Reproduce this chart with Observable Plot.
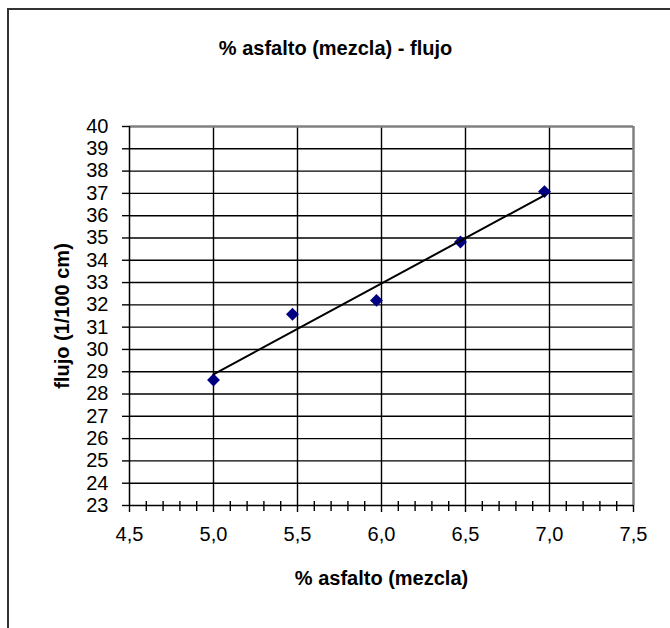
<!DOCTYPE html>
<html>
<head>
<meta charset="utf-8">
<script src="https://cdn.jsdelivr.net/npm/d3@7"></script>
<script src="https://cdn.jsdelivr.net/npm/@observablehq/plot@0.6"></script>
<style>
  html, body { margin: 0; padding: 0; background: #fff; }
  #wrap { position: relative; width: 670px; height: 628px; overflow: hidden; background: #fff; }
  #frame { position: absolute; left: 7px; top: 8px; width: 700px; height: 700px; border-top: 2px solid #333; border-left: 2px solid #333; pointer-events: none; }
  #wrap svg { position: absolute; left: 0; top: 0; font-family: Arial, "Liberation Sans", sans-serif; }
</style>
</head>
<body>
<div id="wrap"><div id="frame"></div></div>
<script>
// Data
const asphaltPct = [5.00, 5.47, 5.97, 6.47, 6.97];
const flowValues = [28.63, 31.58, 32.20, 34.82, 37.08];

const titleText = "% asfalto (mezcla) - flujo";
const xTitle = "% asfalto (mezcla)";
const yTitle = "flujo (1/100 cm)";

const xMajorTicks = [4.5, 5.0, 5.5, 6.0, 6.5, 7.0, 7.5];
const xMinorTicks = [4.6,4.7,4.8,4.9,5.1,5.2,5.3,5.4,5.6,5.7,5.8,5.9,6.1,6.2,6.3,6.4,6.6,6.7,6.8,6.9,7.1,7.2,7.3,7.4];
const yTicks = [23,24,25,26,27,28,29,30,31,32,33,34,35,36,37,38,39,40];
const xGridValues = [5.0, 5.5, 6.0, 6.5, 7.0];
const yGridValues = [24,25,26,27,28,29,30,31,32,33,34,35,36,37,38,39];

const data = asphaltPct.map((x, i) => ({x, y: flowValues[i]}));
const fmt = d => d.toFixed(1).replace(".", ",");

const chart = Plot.plot({
  width: 670,
  height: 628,
  marginLeft: 129,
  marginRight: 37,
  marginTop: 126,
  marginBottom: 123,
  style: {fontFamily: "Arial, 'Liberation Sans', sans-serif", fontSize: "20px", color: "#000", background: "transparent"},
  x: {domain: [4.5, 7.5]},
  y: {domain: [23, 40]},
  marks: [
    Plot.gridY(yGridValues, {stroke: "#000", strokeOpacity: 1, strokeWidth: 1.4}),
    Plot.gridX(xGridValues, {stroke: "#000", strokeOpacity: 1, strokeWidth: 1.4}),
    Plot.ruleY([40], {stroke: "#808080", strokeWidth: 2.5}),
    Plot.ruleX([7.5], {stroke: "#808080", strokeWidth: 2.5}),
    Plot.ruleX([4.5], {stroke: "#000", strokeWidth: 1.5}),
    Plot.ruleY([23], {stroke: "#000", strokeWidth: 1.5}),
    Plot.axisY(yTicks, {tickSize: 7, tickPadding: 14, fontSize: 20, label: null, strokeWidth: 1.4}),
    Plot.axisX(xMajorTicks, {tickSize: 7, tickPadding: 14, fontSize: 20, tickFormat: fmt, label: null, strokeWidth: 1.4}),
    Plot.axisX(xMinorTicks, {tickSize: 10, dy: -4, tickFormat: () => "", label: null, strokeWidth: 1.4}),
    Plot.dot(data, {x: "x", y: "y", symbol: "diamond2", r: 5.8, fill: "#000080", stroke: "none"}),
    Plot.linearRegressionY(data, {x: "x", y: "y", ci: 0, stroke: "#000", strokeWidth: 2}),
    Plot.text([titleText], {frameAnchor: "top", lineAnchor: "middle", textAnchor: "middle", dx: -46, dy: -78, fontSize: 20, fontWeight: "bold", text: d => d}),
    Plot.text([xTitle], {frameAnchor: "bottom", lineAnchor: "middle", textAnchor: "middle", dy: 73, fontSize: 20, fontWeight: "bold", text: d => d}),
    Plot.text([yTitle], {frameAnchor: "left", lineAnchor: "middle", textAnchor: "middle", dx: -67, rotate: -90, fontSize: 20, fontWeight: "bold", text: d => d})
  ]
});
document.getElementById("wrap").prepend(chart);
</script>
</body>
</html>
